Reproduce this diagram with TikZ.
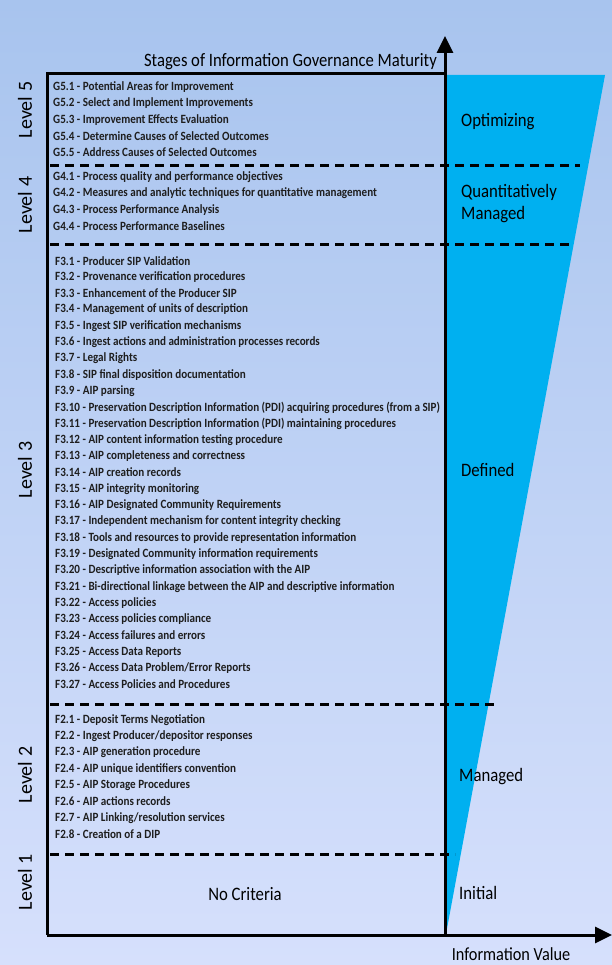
\documentclass[tikz,border=0pt]{standalone}
\usepackage{fontspec}
\setmainfont{Carlito}[FakeStretch=0.88]
\newfontfamily\levelfont{Carlito}
\usetikzlibrary{positioning,calc,arrows.meta}
\definecolor{bgtop}{RGB}{168,196,238}
\definecolor{bgbot}{RGB}{214,224,252}
\definecolor{stageblue}{RGB}{0,176,240}
\definecolor{itemgray}{RGB}{30,30,30}
\newcommand{\dy}{16.3}
\tikzset{
  item/.style={anchor=west,inner sep=0pt,text=itemgray,font=\fontsize{12.6}{14}\selectfont\bfseries},
  stagelab/.style={anchor=west,inner sep=0pt,align=left,font=\fontsize{19}{22}\selectfont},
  levellab/.style={rotate=90,inner sep=0pt,font=\levelfont\fontsize{20}{22}\selectfont},
  divider/.style={line width=3pt,dash pattern=on 9pt off 6pt},
  axis/.style={line width=3pt,-{Triangle[length=17pt,width=16pt]}}
}

\begin{document}
\begin{tikzpicture}[x=1pt,y=-1pt]
\useasboundingbox (0,0) rectangle (612,965);
\shade[top color=bgtop,bottom color=bgbot] (0,0) rectangle (612,965);
\coordinate (o) at (445,935);
\coordinate (yend) at (445,36);
\coordinate (xend) at (612,935);
\coordinate (tl) at (47,74);
\coordinate (tr) at (445,74);
\coordinate (bl) at (47,935);
% value wedge
\fill[stageblue] (446,75) -- (605,75) -- (446,934) -- cycle;
% level borders
\draw[divider] (50,166) -- (580,166);
\draw[divider] (50,245) -- (573,245);
\draw[divider] (50,704) -- (497,704);
\draw[divider] (50,854) -- (455,854);
% frame and axes
\draw[line width=3pt] (tr) -- (tl) -- (bl);
\draw[axis] (bl) -- (xend);
\draw[axis] (o) -- (yend);
\node[anchor=east,inner sep=0pt,font=\fontsize{18.9}{21}\selectfont] (title) at (437,62) {Stages of Information Governance Maturity};
\node[inner sep=0pt,font=\fontsize{18.5}{20}\selectfont] (xlab) at (511,954) {Information Value};
% level names
\node[levellab] (lv5) at (25,110) {Level 5};
\node[levellab] (lv4) at (25,205) {Level 4};
\node[levellab] (lv3) at (25,470) {Level 3};
\node[levellab] (lv2) at (25,775) {Level 2};
\node[levellab] (lv1) at (25,882) {Level 1};
% stage names
\node[stagelab] (opt) at (461,122) {Optimizing};
\node[stagelab] (qm) at (461,204) {Quantitatively\\Managed};
\node[stagelab] (def) at (461,470) {Defined};
\node[stagelab] (man) at (459,777) {Managed};
\node[stagelab] (ini) at (459,893) {Initial};
\node[font=\fontsize{19}{21}\selectfont,inner sep=0pt] (nocrit) at (245,894) {No Criteria};
% criteria
\foreach \t [count=\i from 0] in {
  {G5.1 - Potential Areas for Improvement},
  {G5.2 - Select and Implement Improvements},
  {G5.3 - Improvement Effects Evaluation},
  {G5.4 - Determine Causes of Selected Outcomes},
  {G5.5 - Address Causes of Selected Outcomes}}{
\node[item] (g5-\i) at (53,{87+\i*\dy}) {\t};
}
\foreach \t [count=\i from 0] in {
  {G4.1 - Process quality and performance objectives},
  {G4.2 - Measures and analytic techniques for quantitative management},
  {G4.3 - Process Performance Analysis},
  {G4.4 - Process Performance Baselines}}{
\node[item] (g4-\i) at (53,{177.3+\i*\dy}) {\t};
}
\foreach \t [count=\i from 0] in {
  {F3.1 - Producer SIP Validation},
  {F3.2 - Provenance verification procedures},
  {F3.3 - Enhancement of the Producer SIP},
  {F3.4 - Management of units of description},
  {F3.5 - Ingest SIP verification mechanisms},
  {F3.6 - Ingest actions and administration processes records},
  {F3.7 - Legal Rights},
  {F3.8 - SIP final disposition documentation},
  {F3.9 - AIP parsing},
  {F3.10 - Preservation Description Information (PDI) acquiring procedures (from a SIP)},
  {F3.11 - Preservation Description Information (PDI) maintaining procedures},
  {F3.12 - AIP content information testing procedure},
  {F3.13 - AIP completeness and correctness},
  {F3.14 - AIP creation records},
  {F3.15 - AIP integrity monitoring},
  {F3.16 - AIP Designated Community Requirements},
  {F3.17 - Independent mechanism for content integrity checking},
  {F3.18 - Tools and resources to provide representation information},
  {F3.19 - Designated Community information requirements},
  {F3.20 - Descriptive information association with the AIP},
  {F3.21 - Bi-directional linkage between the AIP and descriptive information},
  {F3.22 - Access policies},
  {F3.23 - Access policies compliance},
  {F3.24 - Access failures and errors},
  {F3.25 - Access Data Reports},
  {F3.26 - Access Data Problem/Error Reports},
  {F3.27 - Access Policies and Procedures}}{
\node[item] (f3-\i) at (55,{260.7+\i*\dy}) {\t};
}
\foreach \t [count=\i from 0] in {
  {F2.1 - Deposit Terms Negotiation},
  {F2.2 - Ingest Producer/depositor responses},
  {F2.3 - AIP generation procedure},
  {F2.4 - AIP unique identifiers convention},
  {F2.5 - AIP Storage Procedures},
  {F2.6 - AIP actions records},
  {F2.7 - AIP Linking/resolution services},
  {F2.8 - Creation of a DIP}}{
\node[item] (f2-\i) at (55,{720+\i*\dy}) {\t};
}
\end{tikzpicture}
\end{document}
